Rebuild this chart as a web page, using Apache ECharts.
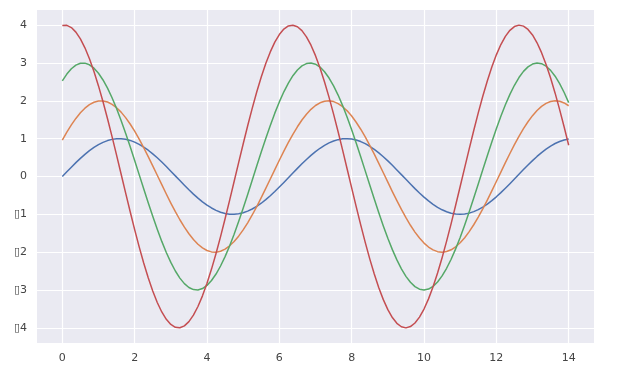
<!DOCTYPE html>
<html>
<head>
<meta charset="utf-8">
<script src="https://cdn.jsdelivr.net/npm/echarts@6/dist/echarts.min.js"></script>
<style>
html,body{margin:0;padding:0;background:#fff;}
#chart{width:619px;height:388px;}
</style>
</head>
<body>
<div id="chart"></div>
<script>
const xValues = [0,0.125,0.25,0.375,0.5,0.625,0.75,0.875,1,1.125,1.25,1.375,1.5,1.625,1.75,1.875,2,2.125,2.25,2.375,2.5,2.625,2.75,2.875,3,3.125,3.25,3.375,3.5,3.625,3.75,3.875,4,4.125,4.25,4.375,4.5,4.625,4.75,4.875,5,5.125,5.25,5.375,5.5,5.625,5.75,5.875,6,6.125,6.25,6.375,6.5,6.625,6.75,6.875,7,7.125,7.25,7.375,7.5,7.625,7.75,7.875,8,8.125,8.25,8.375,8.5,8.625,8.75,8.875,9,9.125,9.25,9.375,9.5,9.625,9.75,9.875,10,10.125,10.25,10.375,10.5,10.625,10.75,10.875,11,11.125,11.25,11.375,11.5,11.625,11.75,11.875,12,12.125,12.25,12.375,12.5,12.625,12.75,12.875,13,13.125,13.25,13.375,13.5,13.625,13.75,13.875,14];
const blueValues = [0,0.125,0.247,0.366,0.479,0.585,0.682,0.768,0.841,0.902,0.949,0.981,0.997,0.999,0.984,0.954,0.909,0.850,0.778,0.694,0.598,0.494,0.382,0.263,0.141,0.017,-0.108,-0.231,-0.351,-0.465,-0.572,-0.669,-0.757,-0.832,-0.895,-0.944,-0.977,-0.996,-0.999,-0.987,-0.959,-0.916,-0.859,-0.788,-0.706,-0.612,-0.508,-0.397,-0.279,-0.158,-0.033,0.092,0.215,0.335,0.450,0.558,0.657,0.746,0.823,0.888,0.938,0.974,0.995,1.000,0.989,0.964,0.923,0.867,0.799,0.717,0.625,0.523,0.412,0.295,0.174,0.050,-0.075,-0.199,-0.320,-0.435,-0.544,-0.644,-0.735,-0.814,-0.880,-0.932,-0.970,-0.993,-1.000,-0.992,-0.968,-0.929,-0.876,-0.808,-0.729,-0.638,-0.537,-0.427,-0.311,-0.190,-0.066,0.059,0.183,0.304,0.420,0.530,0.632,0.723,0.804,0.872,0.926,0.966,0.991];
const orangeValues = [0.959,1.170,1.363,1.535,1.683,1.805,1.898,1.962,1.995,1.997,1.968,1.908,1.819,1.701,1.556,1.387,1.197,0.988,0.763,0.527,0.282,0.033,-0.216,-0.463,-0.702,-0.930,-1.143,-1.339,-1.514,-1.665,-1.790,-1.887,-1.955,-1.992,-1.999,-1.974,-1.918,-1.832,-1.718,-1.577,-1.411,-1.223,-1.017,-0.794,-0.559,-0.315,-0.066,0.183,0.430,0.670,0.900,1.116,1.314,1.492,1.646,1.775,1.876,1.948,1.989,2.000,1.979,1.927,1.845,1.735,1.597,1.434,1.249,1.045,0.824,0.591,0.348,0.100,-0.150,-0.398,-0.639,-0.870,-1.088,-1.289,-1.469,-1.627,-1.759,-1.864,-1.940,-1.986,-2.000,-1.983,-1.936,-1.858,-1.751,-1.617,-1.457,-1.275,-1.073,-0.854,-0.622,-0.380,-0.133,0.117,0.365,0.608,0.840,1.060,1.263,1.447,1.608,1.743,1.852,1.932,1.981,2.000,1.987,1.944,1.870];
const greenValues = [2.525,2.707,2.847,2.943,2.993,2.996,2.952,2.862,2.728,2.551,2.334,2.081,1.796,1.482,1.145,0.791,0.423,0.050,-0.325,-0.694,-1.052,-1.394,-1.715,-2.008,-2.270,-2.497,-2.685,-2.831,-2.933,-2.989,-2.998,-2.960,-2.877,-2.748,-2.577,-2.365,-2.117,-1.835,-1.525,-1.191,-0.838,-0.473,-0.100,0.275,0.645,1.006,1.350,1.674,1.971,2.238,2.469,2.663,2.814,2.922,2.984,2.999,2.968,2.891,2.768,2.602,2.396,2.152,1.874,1.568,1.236,0.886,0.522,0.149,-0.225,-0.597,-0.959,-1.306,-1.632,-1.933,-2.204,-2.441,-2.639,-2.796,-2.910,-2.978,-3.000,-2.975,-2.903,-2.787,-2.627,-2.425,-2.186,-1.913,-1.610,-1.282,-0.933,-0.571,-0.199,0.176,0.548,0.911,1.261,1.590,1.895,2.170,2.411,2.615,2.778,2.897,2.972,3.000,2.981,2.915,2.805,2.650,2.454,2.220,1.951];
const redValues = [3.990,3.994,3.936,3.816,3.637,3.401,3.112,2.775,2.394,1.976,1.527,1.054,0.564,0.066,-0.433,-0.925,-1.403,-1.859,-2.286,-2.678,-3.027,-3.330,-3.580,-3.774,-3.910,-3.985,-3.997,-3.947,-3.836,-3.664,-3.436,-3.154,-2.822,-2.447,-2.033,-1.588,-1.118,-0.630,-0.133,0.367,0.860,1.341,1.800,2.232,2.628,2.984,3.292,3.550,3.752,3.896,3.978,3.999,3.958,3.854,3.690,3.469,3.194,2.869,2.499,2.090,1.648,1.181,0.696,0.199,-0.300,-0.796,-1.278,-1.741,-2.176,-2.578,-2.939,-3.254,-3.519,-3.728,-3.880,-3.971,-4.000,-3.966,-3.871,-3.716,-3.502,-3.234,-2.915,-2.550,-2.146,-1.709,-1.244,-0.761,-0.265,0.234,0.730,1.215,1.681,2.120,2.526,2.893,3.215,3.487,3.704,3.863,3.962,4.000,3.974,3.887,3.740,3.533,3.272,2.960,2.601,2.202,1.768,1.308,0.826];
const xTickValues = [0,2,4,6,8,10,12,14];
const yTickValues = [-4,-3,-2,-1,0,1,2,3,4];
const yTickLabels = {"4":"4","3":"3","2":"2","1":"1","0":"0","-1":"\u25AF1","-2":"\u25AF2","-3":"\u25AF3","-4":"\u25AF4"};

const seriesList = [
  {name:'s0', values: blueValues, color:'#4C72B0'},
  {name:'s1', values: orangeValues, color:'#DD8452'},
  {name:'s2', values: greenValues, color:'#55A868'},
  {name:'s3', values: redValues, color:'#C44E52'}
];

const chart = echarts.init(document.getElementById('chart'), null, {renderer:'canvas'});
const labelFont = {color:'#444444', fontSize:11, fontFamily:'DejaVu Sans'};
chart.setOption({
  animation:false,
  backgroundColor:'#ffffff',
  grid:{left:37, top:10, width:557, height:333, show:true, backgroundColor:'#EAEAF2', borderWidth:0},
  xAxis:{
    type:'value', min:-0.7, max:14.7,
    axisLine:{show:false},
    axisTick:{show:false, customValues:xTickValues},
    splitLine:{show:true, lineStyle:{color:'#ffffff', width:1.2}},
    axisLabel:Object.assign({margin:10, customValues:xTickValues,
      formatter:function(v){ return String(v); }}, labelFont)
  },
  yAxis:{
    type:'value', min:-4.4, max:4.4,
    axisLine:{show:false},
    axisTick:{show:false, customValues:yTickValues},
    splitLine:{show:true, lineStyle:{color:'#ffffff', width:1.2}},
    axisLabel:Object.assign({margin:10, customValues:yTickValues,
      formatter:function(v){ const k = String(Math.round(v)); return yTickLabels[k] !== undefined ? yTickLabels[k] : ''; }}, labelFont)
  },
  series: seriesList.map(s => ({
    type:'line', name:s.name, showSymbol:false, smooth:false,
    lineStyle:{color:s.color, width:1.5, join:'round'},
    itemStyle:{color:s.color},
    data: xValues.map((x,i)=>[x, s.values[i]])
  }))
});
</script>
</body>
</html>
